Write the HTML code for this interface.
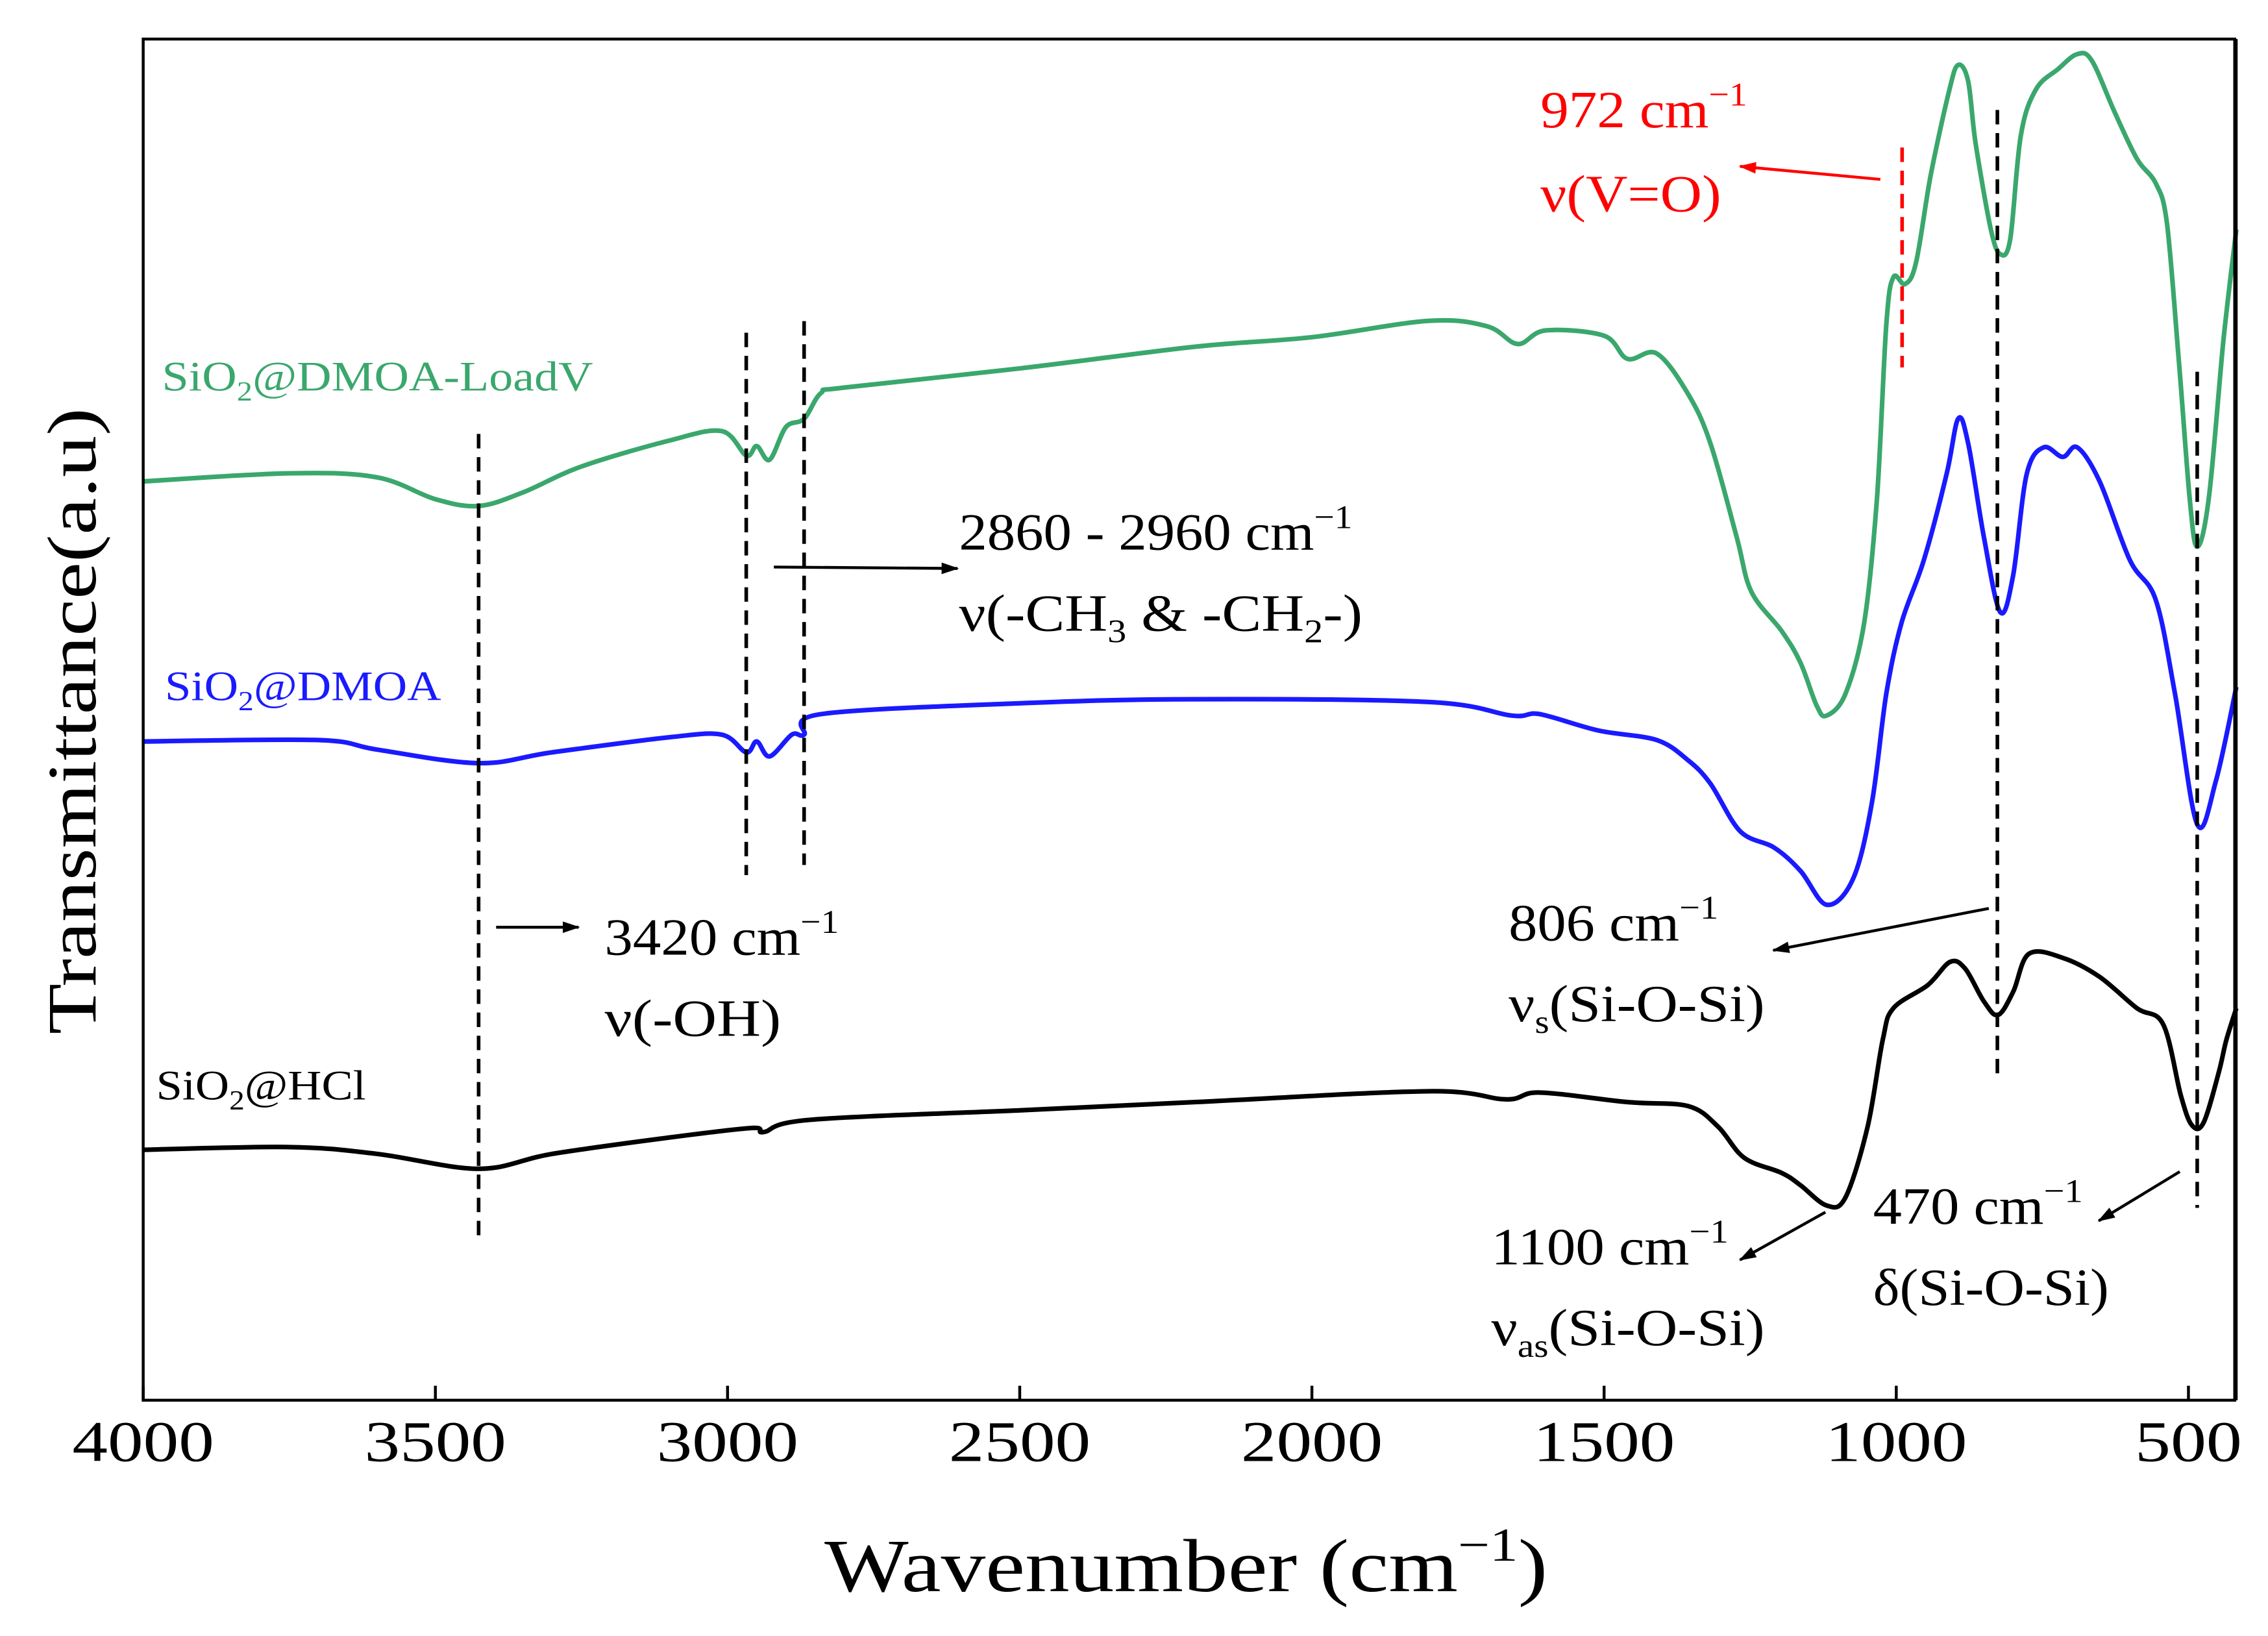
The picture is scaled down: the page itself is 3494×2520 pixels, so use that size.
<!DOCTYPE html>
<html><head><meta charset="utf-8"><style>
html,body{margin:0;padding:0;background:#fff}
svg{display:block}
text{font-family:"Liberation Serif",serif}
</style></head><body>
<svg id="chart" width="3494" height="2520" viewBox="0 0 1568 1131" preserveAspectRatio="none" xmlns="http://www.w3.org/2000/svg">
<rect x="0" y="0" width="1568" height="1131" fill="#fff"/>
<g id="plot"></g>
<rect x="99" y="27" width="1446" height="941" fill="none" stroke="#000" stroke-width="2"/>
<line x1="1545.5" y1="27" x2="1545.5" y2="968" stroke="#000" stroke-width="3"/>
<g id="xticks"></g>
<text x="570" y="1100" font-size="52" textLength="500" lengthAdjust="spacingAndGlyphs">Wavenumber (cm<tspan font-size="33" dy="-21">−1</tspan><tspan dy="21">)</tspan></text>
<text transform="translate(66,715) rotate(-90)" font-size="48" textLength="433" lengthAdjust="spacingAndGlyphs">Transmittance(a.u)</text>
<g id="ann"></g>
<text x="112" y="270" font-size="29" fill="#3aa76d" textLength="298" lengthAdjust="spacingAndGlyphs">SiO<tspan font-size="19" dy="7">2</tspan><tspan dy="-7">@DMOA-LoadV</tspan></text>
<text x="114" y="484" font-size="29" fill="#1a1aff" textLength="191" lengthAdjust="spacingAndGlyphs">SiO<tspan font-size="19" dy="7">2</tspan><tspan dy="-7">@DMOA</tspan></text>
<text x="108" y="760" font-size="29" fill="#000" textLength="145" lengthAdjust="spacingAndGlyphs">SiO<tspan font-size="19" dy="7">2</tspan><tspan dy="-7">@HCl</tspan></text>
<g font-size="36">
<text x="1065" y="88" fill="#ff0000" textLength="143" lengthAdjust="spacingAndGlyphs">972 cm<tspan font-size="23" dy="-15">−1</tspan></text>
<text x="1065" y="146" fill="#ff0000" textLength="125" lengthAdjust="spacingAndGlyphs">ν(V=O)</text>
<text x="663" y="380" textLength="272" lengthAdjust="spacingAndGlyphs">2860 - 2960 cm<tspan font-size="23" dy="-15">−1</tspan></text>
<text x="663" y="436" textLength="279" lengthAdjust="spacingAndGlyphs">ν(-CH<tspan font-size="23" dy="8">3</tspan><tspan dy="-8"> &amp; -CH</tspan><tspan font-size="23" dy="8">2</tspan><tspan dy="-8">-)</tspan></text>
<text x="418" y="660" textLength="162" lengthAdjust="spacingAndGlyphs">3420 cm<tspan font-size="23" dy="-15">−1</tspan></text>
<text x="418" y="716" textLength="122" lengthAdjust="spacingAndGlyphs">ν(-OH)</text>
<text x="1043" y="650" textLength="145" lengthAdjust="spacingAndGlyphs">806 cm<tspan font-size="23" dy="-15">−1</tspan></text>
<text x="1043" y="706" textLength="177" lengthAdjust="spacingAndGlyphs">ν<tspan font-size="23" dy="8">s</tspan><tspan dy="-8">(Si-O-Si)</tspan></text>
<text x="1031" y="874" textLength="164" lengthAdjust="spacingAndGlyphs">1100 cm<tspan font-size="23" dy="-15">−1</tspan></text>
<text x="1031" y="930" textLength="189" lengthAdjust="spacingAndGlyphs">ν<tspan font-size="23" dy="8">as</tspan><tspan dy="-8">(Si-O-Si)</tspan></text>
<text x="1295" y="846" textLength="145" lengthAdjust="spacingAndGlyphs">470 cm<tspan font-size="23" dy="-15">−1</tspan></text>
<text x="1295" y="902" textLength="163" lengthAdjust="spacingAndGlyphs">δ(Si-O-Si)</text>
</g>
<defs>
<marker id="ah" markerWidth="12" markerHeight="8" refX="11" refY="4" orient="auto" markerUnits="userSpaceOnUse"><path d="M0,0 L12,4 L0,8 z" fill="#000"/></marker>
<marker id="ahr" markerWidth="12" markerHeight="8" refX="11" refY="4" orient="auto" markerUnits="userSpaceOnUse"><path d="M0,0 L12,4 L0,8 z" fill="#ff0000"/></marker>
</defs>
<line x1="535" y1="392" x2="662" y2="393" stroke="#000" stroke-width="2" marker-end="url(#ah)"/>
<line x1="343" y1="641" x2="400" y2="641" stroke="#000" stroke-width="2" marker-end="url(#ah)"/>
<line x1="1375" y1="628" x2="1226" y2="657" stroke="#000" stroke-width="2" marker-end="url(#ah)"/>
<line x1="1262" y1="838" x2="1203" y2="871" stroke="#000" stroke-width="2" marker-end="url(#ah)"/>
<line x1="1507" y1="810" x2="1451" y2="844" stroke="#000" stroke-width="2" marker-end="url(#ah)"/>
<line x1="1300" y1="124" x2="1203" y2="115" stroke="#ff0000" stroke-width="2" marker-end="url(#ahr)"/>
</svg>
<script>
const xTicks=[4000,3500,3000,2500,2000,1500,1000,500];
const wnG=[4000,3750,3600,3500,3426,3350,3250,3100,3010,2968,2950,2928,2900,2869,2840,2800,2500,2200,2000,1800,1700,1648,1600,1500,1460,1410,1356,1318,1273,1248,1196,1164,1136,1119,1087,1055,1033,1017,1005,985,966,941,909,894,877,864,838,822,805,787,761,723,690,665,626,588,556,537,517,498,485,465,440,418];
const tG=[67.5,68.1,67.8,66.2,65.7,66.7,68.6,70.5,71.2,69.4,70.1,69.1,71.5,72.1,74.0,74.4,75.8,77.4,78.1,79.3,78.9,77.6,78.6,78.2,76.5,76.9,73.9,70.3,63.4,59.4,56.5,54.2,51.0,50.3,51.9,57.1,66.3,79.0,82.5,82.0,83.6,90.0,96.3,98.1,96.9,92.3,86.0,84.2,85.3,92.9,96.3,97.8,98.9,98.4,94.6,91.2,89.4,86.5,76.7,66.3,62.7,66.3,77.9,86.0];
const wnB=[4000,3700,3600,3426,3300,3100,3010,2968,2950,2928,2890,2869,2840,2500,2200,1800,1658,1610,1510,1410,1356,1318,1267,1209,1164,1119,1074,1042,1017,991,953,914,894,877,850,822,800,777,748,715,690,652,600,556,523,485,453,418];
const tB=[48.4,48.5,47.8,46.8,47.6,48.7,48.9,47.6,48.4,47.3,48.9,48.9,50.4,51.2,51.5,51.3,50.3,50.4,49.2,48.5,47.0,45.3,41.8,40.6,38.9,36.4,38.3,43.8,51.9,57.1,61.7,68.0,72.1,70.3,63.4,57.9,60.6,68.0,70.0,69.3,70.0,67.5,61.7,58.8,51.9,42.3,45.5,52.4];
const wnK=[4000,3750,3600,3426,3300,3100,2958,2938,2860,2500,2200,1800,1668,1610,1460,1356,1305,1260,1196,1164,1119,1087,1049,1023,1005,946,908,882,850,826,800,773,715,652,588,543,513,494,474,448,435,418];
const tK=[18.4,18.6,18.1,17.0,18.1,19.3,20.0,19.7,20.6,21.3,21.9,22.7,22.1,22.6,21.9,21.6,20.1,17.8,16.7,15.8,14.3,14.9,20.1,26.5,28.8,30.5,32.2,31.7,29.3,28.3,30.0,32.8,32.5,31.1,28.8,27.6,22.4,20.2,20.4,24.1,26.5,28.8];
const dashWn=[3426,2968,2869,827,485];
const dashTop=[300,230,222,76,257];
const dashBot=[855,605,598,748,835];
const redWn=[990];

const NS="http://www.w3.org/2000/svg";
function xS(w){return 99+(4000-w)*0.404;}
function yS(v){return 968-v*9.41;}
const plot=document.getElementById('plot');
function line(wn,t,color,name){
  const P=wn.map((w,i)=>[xS(w),yS(t[i])]);
  let d='M'+P[0][0].toFixed(1)+','+P[0][1].toFixed(1);
  for(let i=0;i<P.length-1;i++){
    const p0=P[Math.max(0,i-1)],p1=P[i],p2=P[i+1],p3=P[Math.min(P.length-1,i+2)];
    const c1x=p1[0]+(p2[0]-p0[0])/6,c1y=p1[1]+(p2[1]-p0[1])/6;
    const c2x=p2[0]-(p3[0]-p1[0])/6,c2y=p2[1]-(p3[1]-p1[1])/6;
    d+='C'+c1x.toFixed(1)+','+c1y.toFixed(1)+' '+c2x.toFixed(1)+','+c2y.toFixed(1)+' '+p2[0].toFixed(1)+','+p2[1].toFixed(1);
  }
  const p=document.createElementNS(NS,'path');
  p.setAttribute('d',d);p.setAttribute('fill','none');p.setAttribute('stroke',color);
  p.setAttribute('stroke-width','3.2');p.setAttribute('stroke-linejoin','round');
  
  
  plot.appendChild(p);
}
line(wnG,tG,'#3aa76d','series-loadv');
line(wnB,tB,'#1a1aff','series-dmoa');
line(wnK,tK,'#000000','series-hcl');
const ann=document.getElementById('ann');
for(let i=0;i<dashWn.length;i++){
  const l=document.createElementNS(NS,'line');
  l.setAttribute('x1',xS(dashWn[i]));l.setAttribute('x2',xS(dashWn[i]));
  l.setAttribute('y1',dashTop[i]);l.setAttribute('y2',dashBot[i]);
  l.setAttribute('stroke','#000');l.setAttribute('stroke-width','2.5');l.setAttribute('stroke-dasharray','10,6');
  
  
  ann.appendChild(l);
}
for(const w of redWn){
  const l=document.createElementNS(NS,'line');
  l.setAttribute('x1',xS(w));l.setAttribute('x2',xS(w));l.setAttribute('y1',102);l.setAttribute('y2',254);
  l.setAttribute('stroke','#ff0000');l.setAttribute('stroke-width','2.5');l.setAttribute('stroke-dasharray','10,6');
  
  
  ann.appendChild(l);
}
const xt=document.getElementById('xticks');
for(const t of xTicks){
  const l=document.createElementNS(NS,'line');
  l.setAttribute('x1',xS(t));l.setAttribute('x2',xS(t));l.setAttribute('y1',968);l.setAttribute('y2',958);
  l.setAttribute('stroke','#000');l.setAttribute('stroke-width','2');
  
  
  xt.appendChild(l);
  const tx=document.createElementNS(NS,'text');
  const len=t>=1000?98:74;
  tx.setAttribute('x',xS(t)-len/2);tx.setAttribute('y',1010);tx.setAttribute('font-size','40');
  tx.setAttribute('textLength',len);tx.setAttribute('lengthAdjust','spacingAndGlyphs');
  tx.textContent=t;
  
  
  xt.appendChild(tx);
}
</script>
</body></html>
